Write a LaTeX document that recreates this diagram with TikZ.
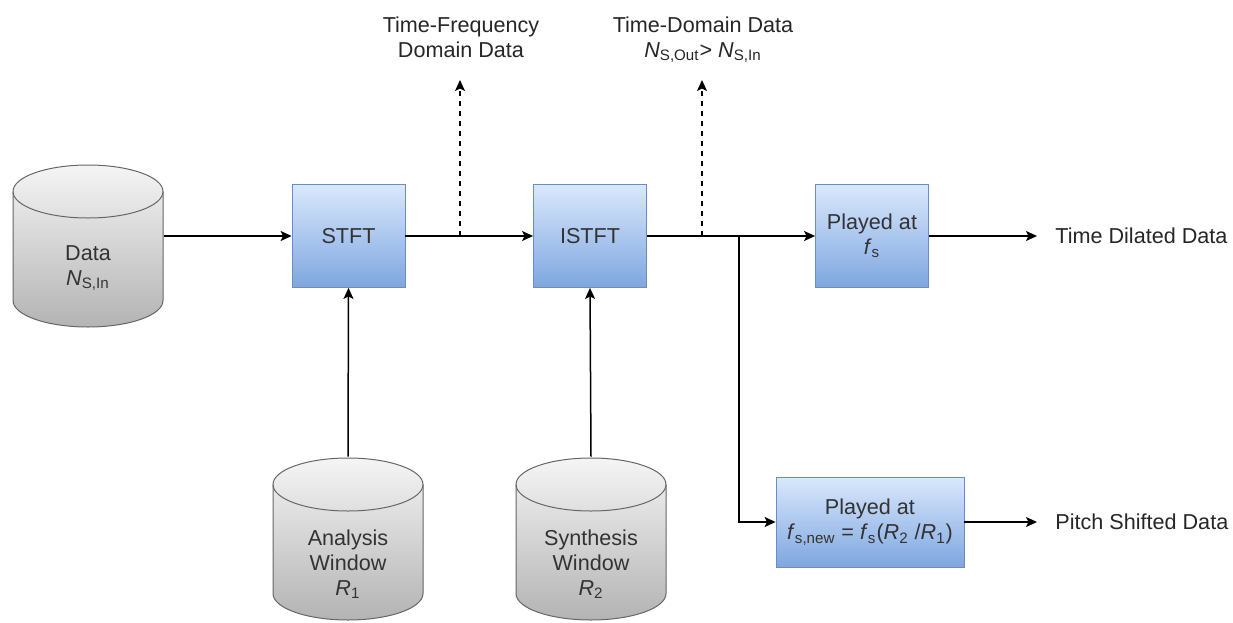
\documentclass[tikz,border=0pt]{standalone}
\usepackage{fontspec}
\setmainfont{Liberation Sans}
\usetikzlibrary{arrows.meta,positioning,calc,shapes.geometric}
\definecolor{boxtop}{HTML}{DAE8FC}
\definecolor{boxbot}{HTML}{7EA6E0}
\definecolor{boxline}{HTML}{6C8EBF}
\definecolor{cyltop}{HTML}{F5F5F5}
\definecolor{cylbot}{HTML}{B3B3B3}
\definecolor{cylline}{HTML}{666666}
\definecolor{txt}{HTML}{333333}

\begin{document}
\begin{tikzpicture}[x=0.5pt,y=-0.5pt,>={Stealth[length=5.5pt,width=5pt,inset=1.2pt]},
  every node/.style={font=\fontsize{10.8}{12.5}\selectfont},
  proc/.style={draw=boxline,top color=boxtop,bottom color=boxbot,minimum width=56.5pt,minimum height=51.5pt,align=center,text=txt,inner sep=1pt},
  store/.style={minimum width=76pt,minimum height=82pt,inner sep=0pt,align=center,text=txt,
    path picture={
      \path[top color=cyltop,bottom color=cylbot,draw=cylline,line width=0.5pt]
        ([xshift=0.5pt,yshift=-13.75pt]path picture bounding box.north west)
        -- ([xshift=0.5pt,yshift=13.75pt]path picture bounding box.south west)
        arc[start angle=180,end angle=360,x radius=37.5pt,y radius=13.25pt]
        -- ([xshift=-0.5pt,yshift=-13.75pt]path picture bounding box.north east)
        arc[start angle=0,end angle=180,x radius=37.5pt,y radius=13.25pt] -- cycle;
      \draw[cylline,line width=0.5pt] ([xshift=0.5pt,yshift=-13.75pt]path picture bounding box.north west)
        arc[start angle=180,end angle=360,x radius=37.5pt,y radius=13.25pt];
    }},
  outlbl/.style={inner sep=0pt,text depth=0pt,align=center,text=black!85},
  link/.style={->,line width=0.75pt}]
\useasboundingbox (0,0) rectangle (1233,622);
% stores
\node[store,text height=42pt] (data) at (88,246) {Data\\\textit{N}\textsubscript{S,In}};
\node[store,text height=58pt] (anwin) at (348,539) {Analysis\\Window\\\textit{R}\textsubscript{1}};
\node[store,text height=58pt] (synwin) at (591,539) {Synthesis\\Window\\\textit{R}\textsubscript{2}};
% processing blocks
\node[proc] (stft) at (348.5,236) {STFT};
\node[proc] (istft) at (590,236) {ISTFT};
\node[proc] (play) at (872,236) {Played at\\\textit{f}\textsubscript{s}};
\node[proc,minimum width=94pt,minimum height=45pt] (pitch) at (870,522) {Played at\\\textit{f}\textsubscript{s,new} = \textit{f}\textsubscript{s}(\textit{R}\textsubscript{2} /\textit{R}\textsubscript{1})};
% outputs
\node[outlbl,anchor=south] (tfl) at (461,58) {Time-Frequency\\Domain Data};
\node[outlbl,anchor=south] (tdl) at (703,58) {Time-Domain Data\\\textit{N}\textsubscript{S,Out}> \textit{N}\textsubscript{S,In}};
\node[outlbl,anchor=west] (dil) at (1055,236) {Time Dilated Data};
\node[outlbl,anchor=west] (psh) at (1055,522) {Pitch Shifted Data};
\coordinate (tf) at (460,236);
\coordinate (td) at (702,236);
\coordinate (br) at (739,236);
% connectors
\draw[link] (stft.west -| data.east) -- (stft.west);
\draw[link] (stft) -- (istft);
\draw[link] (istft) -- (play);
\draw[link] (anwin.north) -- (stft.south);
\draw[link] (synwin.north) -- (istft.south);
\draw[link,dashed,dash pattern=on 2.5pt off 2.5pt,shorten >=11pt] (tf) -- (tf |- tfl.south);
\draw[link,dashed,dash pattern=on 2.5pt off 2.5pt,shorten >=11pt] (td) -- (td |- tdl.south);
\draw[link] (br) |- (pitch);
\draw[link,shorten >=9pt] (play) -- (dil);
\draw[link,shorten >=9pt] (pitch) -- (psh);
\end{tikzpicture}
\end{document}
